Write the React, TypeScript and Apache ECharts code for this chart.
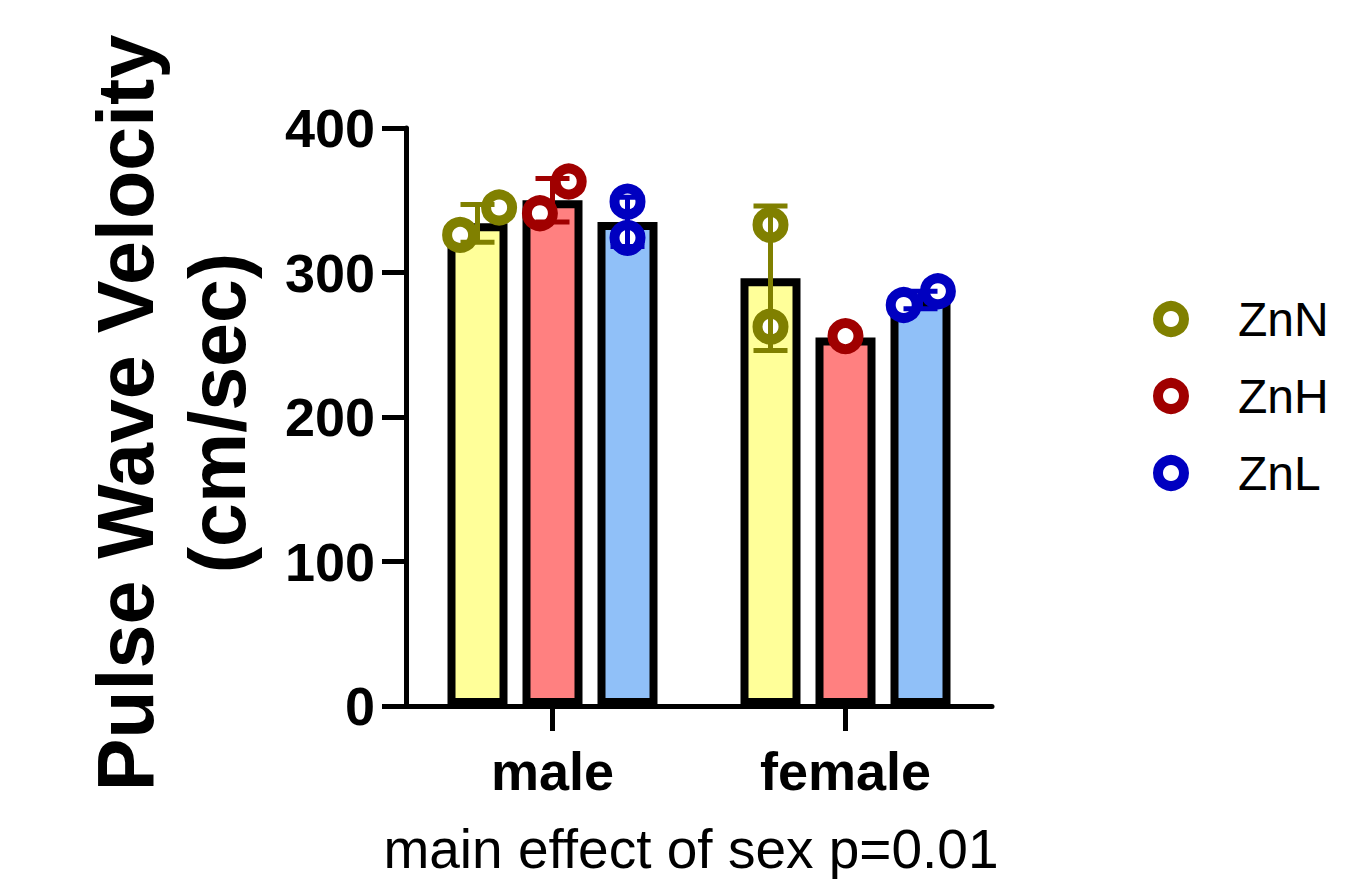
import React, { useEffect, useRef } from "react";
import * as echarts from "echarts";

// ---- data ----
const categories = ["male", "female"];
const groupNames = ["ZnN", "ZnH", "ZnL"];
const yTicks = [0, 100, 200, 300, 400];

const znnMean = [334, 296];
const znhMean = [350, 255];
const znlMean = [335, 281];

const znnSD = [13, 50];
const znhSD = [15, 0];
const znlSD = [17, 6];

const znnPoints = [[326, 345], [333, 262.5]];
const znhPoints = [[341, 363], [256]];
const znlPoints = [[349, 324], [277.5, 287]];

// horizontal jitter of individual points, as fraction of bar width
const znnJitter = [[-0.29, 0.36], [0, 0]];
const znhJitter = [[-0.21, 0.27], [0]];
const znlJitter = [[0, 0], [-0.28, 0.29]];

const subtitle = "main effect of sex p=0.01";
const yTitle = "Pulse Wave Velocity\n(cm/sec)";

// ---- styles ----
const fillColors = ["#FFFF99", "#FF8080", "#90C0F8"];
const darkColors = ["#808000", "#A00000", "#0000C0"];
const FONT = "'Liberation Sans', Arial, Helvetica, sans-serif";
const BAR_W = 60;
const BAR_GAP = 0.25;

export default function App() {
  const ref = useRef<HTMLDivElement>(null);

  useEffect(() => {
    document.body.style.margin = "0";
    const chart = echarts.init(ref.current!, undefined, { renderer: "svg" });

    const means = [znnMean, znhMean, znlMean];
    const sds = [znnSD, znhSD, znlSD];
    const points = [znnPoints, znhPoints, znlPoints];
    const jitters = [znnJitter, znhJitter, znlJitter];

    const barSeries = groupNames.map((g, gi) => ({
      type: "bar",
      name: g + " mean",
      data: means[gi],
      barWidth: BAR_W,
      barGap: BAR_GAP * 100 + "%",
      z: 2,
      itemStyle: { color: fillColors[gi], borderColor: "#000", borderWidth: 8 },
      emphasis: { disabled: true },
    }));

    const pointSeries = groupNames.map((g, gi) => {
      const data: number[][] = [];
      points[gi].forEach((vals, ci) =>
        vals.forEach((v, k) => data.push([ci, v, jitters[gi][ci][k]]))
      );
      return {
        type: "custom",
        name: g,
        z: 3,
        data,
        itemStyle: { color: "#fff", borderColor: darkColors[gi], borderWidth: 10 },
        renderItem: (params: any, api: any) => {
          const c = api.coord([api.value(0), api.value(1)]);
          const off = (gi - 1) * BAR_W * (1 + BAR_GAP) + api.value(2) * BAR_W;
          return {
            type: "circle",
            shape: { cx: c[0] + off, cy: c[1], r: 13 },
            style: { fill: "#fff", stroke: darkColors[gi], lineWidth: 10 },
          };
        },
      };
    });

    const errSeries = groupNames.map((g, gi) => ({
      type: "custom",
      name: g + " sd",
      z: 4,
      data: means[gi].map((m, ci) => [ci, m, sds[gi][ci]]),
      renderItem: (params: any, api: any) => {
        const sd = api.value(2);
        if (!sd) return { type: "group", children: [] };
        const m = api.value(1);
        const top = api.coord([api.value(0), m + sd]);
        const bot = api.coord([api.value(0), m - sd]);
        const x = top[0] + (gi - 1) * BAR_W * (1 + BAR_GAP);
        const hw = 17;
        const st = { stroke: darkColors[gi], lineWidth: 5 };
        return {
          type: "group",
          children: [
            { type: "line", shape: { x1: x, y1: top[1], x2: x, y2: bot[1] }, style: st },
            { type: "line", shape: { x1: x - hw, y1: top[1], x2: x + hw, y2: top[1] }, style: st },
            { type: "line", shape: { x1: x - hw, y1: bot[1], x2: x + hw, y2: bot[1] }, style: st },
          ],
        };
      },
    }));

    chart.setOption({
      animation: false,
      backgroundColor: "#fff",
      grid: { left: 406, top: 128, width: 586, height: 578, containLabel: false },
      xAxis: {
        type: "category",
        data: categories,
        axisLine: { lineStyle: { color: "#000", width: 5 } },
        axisTick: {
          show: true,
          alignWithLabel: true,
          length: 25,
          lineStyle: { color: "#000", width: 5 },
        },
        axisLabel: {
          margin: 38,
          color: "#000",
          fontSize: 54,
          fontWeight: "bold",
          fontFamily: FONT,
        },
      },
      yAxis: {
        type: "value",
        min: yTicks[0],
        max: yTicks[yTicks.length - 1],
        interval: 100,
        splitLine: { show: false },
        axisLine: { show: true, lineStyle: { color: "#000", width: 5 } },
        axisTick: { show: true, length: 24, lineStyle: { color: "#000", width: 5 } },
        axisLabel: {
          margin: 31,
          color: "#000",
          fontSize: 54,
          fontWeight: "bold",
          fontFamily: FONT,
        },
      },
      legend: {
        orient: "vertical",
        left: 1148,
        top: 290,
        itemWidth: 124,
        itemHeight: 26,
        itemGap: 29,
        selectedMode: false,
        textStyle: { fontSize: 48, lineHeight: 48, color: "#000", fontFamily: FONT },
        data: groupNames.map((g, gi) => ({
          name: g,
          icon: "circle",
          itemStyle: { color: "#fff", borderColor: darkColors[gi], borderWidth: 10 },
        })),
      },
      graphic: [
        {
          type: "text",
          x: 171,
          y: 413,
          rotation: Math.PI / 2,
          style: {
            text: yTitle,
            font: `bold 79px ${FONT}`,
            fill: "#000",
            textAlign: "center",
            textVerticalAlign: "middle",
            lineHeight: 92,
          },
        },
        {
          type: "text",
          x: 691,
          y: 849,
          style: {
            text: subtitle,
            font: `55px ${FONT}`,
            fill: "#000",
            textAlign: "center",
            textVerticalAlign: "middle",
          },
        },
      ],
      series: [...barSeries, ...pointSeries, ...errSeries],
    });

    return () => chart.dispose();
  }, []);

  return <div ref={ref} style={{ width: 1371, height: 879 }} />;
}
